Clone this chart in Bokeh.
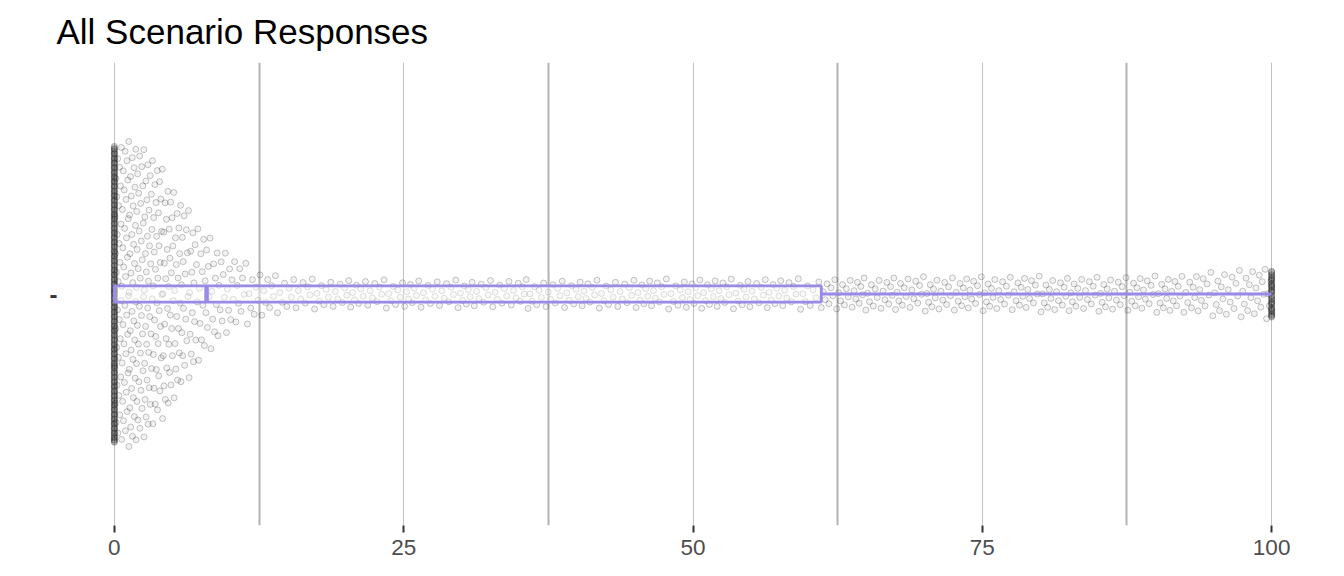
import numpy as np
from bokeh.plotting import figure
from bokeh.models import FixedTicker, Range1d
from bokeh.embed import file_html
from bokeh.resources import INLINE

# ---- data ----
title_text = "All Scenario Responses"
category_label = "-"
zero_count = 320          # responses exactly 0
hundred_count = 50        # responses exactly 100
bin_starts = list(range(0, 100))   # bins [k, k+1) for responses strictly between 0 and 100
bin_counts = [
    50, 52, 45, 39, 33, 27, 21, 16, 13, 11,   # 0-9
    9, 7, 6, 6, 5, 5, 5, 5, 5, 5,             # 10-19
    6, 5, 5, 5, 5, 6, 5, 5, 5, 5,             # 20-29
    6, 5, 5, 5, 5, 6, 5, 5, 5, 5,             # 30-39
    6, 5, 5, 5, 5, 6, 6, 5, 5, 6,             # 40-49
    6, 6, 6, 5, 6, 5, 6, 6, 5, 5,             # 50-59
    4, 6, 6, 6, 7, 6, 6, 7, 6, 6,             # 60-69
    7, 6, 6, 7, 6, 7, 6, 6, 7, 6,             # 70-79
    7, 6, 7, 6, 6, 7, 6, 6, 7, 6,             # 80-89
    7, 7, 6, 7, 6, 7, 6, 7, 7, 8,             # 90-99
]
x_ticks = [0, 25, 50, 75, 100]
x_minor_ticks = [12.5, 37.5, 62.5, 87.5]

box_color = "#978ae8"

# ---- expand responses (counts spread evenly inside each bin) ----
parts = [np.zeros(zero_count)]
for start, c in zip(bin_starts, bin_counts):
    parts.append(start + (np.arange(c) + 0.5) / c)
parts.append(np.full(hundred_count, 100.0))
x = np.concatenate(parts)
n = len(x)

# ---- quasirandom (van der Corput) layout, like ggbeeswarm ----
def van_der_corput(count, base=2):
    out = np.empty(count)
    for i in range(1, count + 1):
        v, denom, k = 0.0, 1.0, i
        while k > 0:
            k, rem = divmod(k, base)
            denom *= base
            v += rem / denom
        out[i - 1] = v
    return out

sd = x.std(ddof=1)
q1, q3 = np.percentile(x, [25, 75])
iqr = q3 - q1
bw = 0.9 * min(sd, iqr / 1.34) * n ** -0.2 * 0.5


def density(pts):
    pts = np.asarray(pts, dtype=float)
    out = np.zeros(len(pts))
    for chunk in range(0, n, 200):
        xs = x[chunk:chunk + 200]
        out += np.exp(-0.5 * ((pts[:, None] - xs[None, :]) / bw) ** 2).sum(axis=1)
    return out


grid_pts = np.linspace(-5, 105, 1101)
dmax = density(grid_pts).max()
d = density(x) / dmax
order = np.argsort(x, kind="stable")
vdc = van_der_corput(n)
offset = np.empty(n)
offset[order] = (vdc - 0.5) * 2 * 0.4 * d[order]
y = 1.0 + offset

# ---- box stats ----
med = np.median(x)
upper = x[x <= q3 + 1.5 * iqr].max()
lower = x[x >= q1 - 1.5 * iqr].min()
half_h = 0.021

p = figure(
    width=1336, height=568,
    x_range=Range1d(-5, 105), y_range=Range1d(0.4, 1.6),
    output_backend="svg", toolbar_location=None,
    min_border_left=56, min_border_right=7, min_border_top=62, min_border_bottom=43,
    title=title_text,
)
p.outline_line_color = None
p.background_fill_color = "white"
p.border_fill_color = "white"

p.title.text_font = "Liberation Sans"
p.title.text_font_size = "35px"
p.title.text_font_style = "normal"
p.title.text_color = "black"
p.title.align = "left"
p.title.vertical_align = "top"
p.title.standoff = 19

# grid
p.xgrid.ticker = FixedTicker(ticks=x_ticks, minor_ticks=x_minor_ticks)
p.xgrid.grid_line_color = "#c2c2c2"
p.xgrid.grid_line_width = 1
p.xgrid.minor_grid_line_color = "#b3b3b3"
p.xgrid.minor_grid_line_width = 2
p.ygrid.visible = False

# x axis
xa = p.xaxis[0]
xa.ticker = FixedTicker(ticks=x_ticks)
xa.axis_line_color = None
xa.major_tick_line_color = "#333333"
xa.major_tick_line_width = 2
xa.major_tick_in = 0
xa.major_tick_out = 7
xa.minor_tick_line_color = None
xa.major_label_text_font = "Liberation Sans"
xa.major_label_text_font_size = "22.5px"
xa.major_label_text_color = "#4d4d4d"
xa.major_label_standoff = 7

# y axis: single category
ya = p.yaxis[0]
ya.ticker = FixedTicker(ticks=[1])
ya.major_label_overrides = {1: category_label}
ya.axis_line_color = None
ya.major_tick_line_color = None
ya.major_tick_in = 0
ya.major_tick_out = 0
ya.minor_tick_line_color = None
ya.major_label_text_font = "Liberation Sans"
ya.major_label_text_font_size = "24px"
ya.major_label_text_font_style = "bold"
ya.major_label_text_color = "#333333"
ya.major_label_standoff = -1

# points
p.scatter(x, y, size=6, marker="circle",
          fill_color="black", fill_alpha=0.05,
          line_color="black", line_alpha=0.22, line_width=1)

# boxplot
p.segment(x0=[q3], y0=[1.0], x1=[upper], y1=[1.0], line_color=box_color, line_width=2.8)
p.segment(x0=[lower], y0=[1.0], x1=[q1], y1=[1.0], line_color=box_color, line_width=2.8)
p.quad(left=[q1], right=[q3], bottom=[1 - half_h], top=[1 + half_h],
       fill_color="white", fill_alpha=0.45, line_color=box_color, line_width=2.8)
p.segment(x0=[med], y0=[1 - half_h], x1=[med], y1=[1 + half_h], line_color=box_color, line_width=4.5)

open("out.html", "w").write(file_html(p, INLINE))
